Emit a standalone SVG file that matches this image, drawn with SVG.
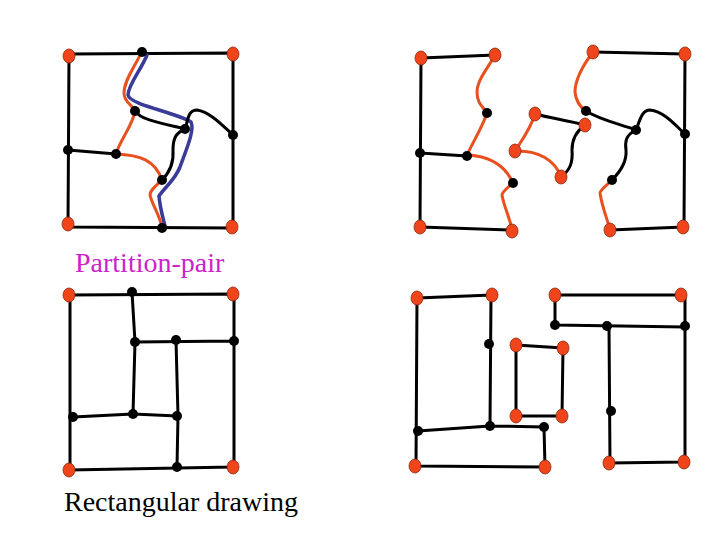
<svg xmlns="http://www.w3.org/2000/svg" width="720" height="540" viewBox="0 0 720 540">
<style>
.e{fill:none;stroke:#000;stroke-width:3;stroke-linecap:round;stroke-linejoin:round}
.o{fill:none;stroke:#e8501e;stroke-width:3;stroke-linecap:round}
.b{fill:none;stroke:#3a3a98;stroke-width:3.5;stroke-linecap:round}
.r{fill:#f0441a;stroke:#8a2a10;stroke-width:0.8}
.k{fill:#000}
</style>
<defs>
<ellipse id="R" class="r" rx="6" ry="7"/>
<circle id="K" class="k" r="5"/>
</defs>
<rect width="720" height="540" fill="#fff"/>
<g id="connectors">
<!-- Q1 -->
<path class="e" d="M69,54 L233,53 M69,54 L68,226 M68,227 L233,228 M233,53 L233,228 M68,150 L116,154"/>
<path class="o" d="M141,53 C136,65 124,80 124,93 C124,103 133,105 135,111 C133,125 120,140 116,154 C140,155 155,160 162,180 C156,186 150,190 150,195 C152,205 160,215 162,228"/>
<path class="b" d="M147,55 C141,70 128,85 128,95 C130,105 175,112 191,122 C195,130 186,150 180,167 C175,180 165,187 159,196 C160,208 163,218 165,226"/>
<path class="e" d="M135,111 C140,120 165,124 185,129 M185,129 C188,120 188,110 197,110 C210,112 222,125 233,135 M185,129 C175,133 173,140 173,150 C174,163 170,172 162,180"/>
<!-- Q2 left -->
<path class="e" d="M421,58 L495,55 M421,58 L420,227 M420,153 L467,156 M420,227 L512,230"/>
<path class="o" d="M495,55 C488,68 477,80 477,92 C477,103 482,106 487,113 C482,128 474,140 467,155 C490,156 505,165 513,183 C507,188 502,192 502,195 C504,207 510,218 512,230"/>
<!-- Q2 middle -->
<path class="e" d="M535,114 C550,118 570,121 585,125 C578,130 572,138 572,150 C573,163 570,170 561,177"/>
<path class="o" d="M535,114 C530,130 522,140 515,151 C538,150 555,160 561,177"/>
<!-- Q2 right -->
<path class="e" d="M593,52 L685,54 M685,54 L684,227 M610,230 L684,227"/>
<path class="o" d="M593,52 C584,64 575,78 575,92 C576,102 580,107 586,111"/>
<path class="e" d="M586,111 C600,120 620,124 636,130 M636,130 C640,120 642,110 650,110 C665,112 675,125 685,134 M636,130 C625,135 625,143 626,150 C627,162 620,172 612,180"/>
<path class="o" d="M612,180 C606,186 600,190 600,193 C602,207 607,218 610,230"/>
<!-- Q3 -->
<path class="e" d="M69,295 L233,294 M70,295 L70,470 M69,470 L233,467 M234,294 L234,467 M132,292 L135,342 L133,414 M135,342 L234,341 M176,340 L178,416 L177,467 M73,417 L133,414 L177,416"/>
<!-- Q4 -->
<path class="e" d="M417,298 L492,295 M417,298 L416,466 M491,295 L490,426 M418,431 L490,426 L544,427 M544,427 L545,467 M415,466 L545,467"/>
<path class="e" d="M516,345 L563,348 L562,416 L516,416 Z"/>
<path class="e" d="M555,295 L681,295 M555,295 L555,325 L685,327 M685,295 L685,462 M609,326 L610,463 M609,463 L684,462"/>
</g>
<g id="nodes-q1">
<use href="#R" x="69" y="56"/><use href="#R" x="233" y="54"/><use href="#R" x="68" y="224"/><use href="#R" x="232" y="227"/>
<use href="#K" x="142" y="52"/><use href="#K" x="68" y="150"/><use href="#K" x="116" y="154"/><use href="#K" x="135" y="111"/>
<use href="#K" x="185" y="129"/><use href="#K" x="233" y="135"/><use href="#K" x="162" y="180"/><use href="#K" x="162" y="228"/>
</g>
<g id="nodes-q2">
<use href="#R" x="421" y="58"/><use href="#R" x="495" y="55"/><use href="#R" x="420" y="227"/><use href="#R" x="512" y="231"/>
<use href="#K" x="487" y="113"/><use href="#K" x="420" y="153"/><use href="#K" x="467" y="156"/><use href="#K" x="513" y="183"/>
<use href="#R" x="535" y="114"/><use href="#R" x="585" y="125"/><use href="#R" x="515" y="151"/><use href="#R" x="561" y="177"/>
<use href="#R" x="593" y="52"/><use href="#R" x="685" y="54"/><use href="#R" x="610" y="230"/><use href="#R" x="683" y="227"/>
<use href="#K" x="586" y="111"/><use href="#K" x="636" y="130"/><use href="#K" x="685" y="134"/><use href="#K" x="612" y="180"/>
</g>
<g id="nodes-q3">
<use href="#R" x="69" y="295"/><use href="#R" x="233" y="294"/><use href="#R" x="69" y="470"/><use href="#R" x="233" y="467"/>
<use href="#K" x="132" y="292"/><use href="#K" x="135" y="342"/><use href="#K" x="176" y="340"/><use href="#K" x="234" y="341"/>
<use href="#K" x="73" y="417"/><use href="#K" x="133" y="414"/><use href="#K" x="177" y="416"/><use href="#K" x="177" y="467"/>
</g>
<g id="nodes-q4">
<use href="#R" x="417" y="298"/><use href="#R" x="492" y="295"/><use href="#R" x="415" y="466"/><use href="#R" x="545" y="467"/>
<use href="#K" x="489" y="344"/><use href="#K" x="418" y="431"/><use href="#K" x="490" y="426"/><use href="#K" x="544" y="427"/>
<use href="#R" x="516" y="345"/><use href="#R" x="563" y="348"/><use href="#R" x="516" y="416"/><use href="#R" x="562" y="416"/>
<use href="#R" x="555" y="295"/><use href="#R" x="681" y="295"/><use href="#R" x="609" y="463"/><use href="#R" x="684" y="462"/>
<use href="#K" x="555" y="325"/><use href="#K" x="607" y="326"/><use href="#K" x="685" y="326"/><use href="#K" x="611" y="411"/>
</g>
<g id="labels" font-family="'Liberation Serif', 'DejaVu Serif', serif" font-size="28">
<text x="75" y="272" fill="#cc22cc">Partition-pair</text>
<text x="64" y="511" fill="#000">Rectangular drawing</text>
</g>
</svg>
